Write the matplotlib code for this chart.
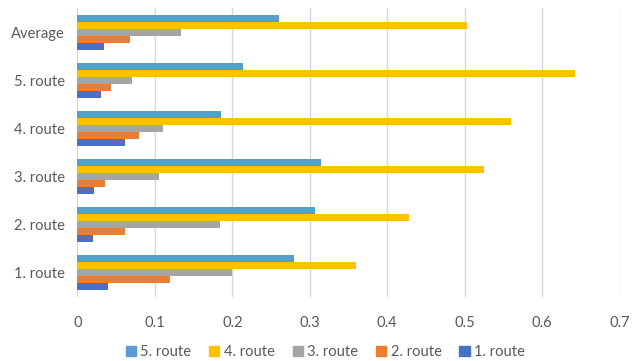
import matplotlib
matplotlib.use("Agg")
import matplotlib.pyplot as plt
import numpy as np
from matplotlib.patches import Patch

categories = ["1. route", "2. route", "3. route", "4. route", "5. route", "Average"]
series_names = ["1. route", "2. route", "3. route", "4. route", "5. route"]
route1 = [0.040, 0.020, 0.021, 0.062, 0.031, 0.034]
route2 = [0.120, 0.061, 0.035, 0.080, 0.043, 0.068]
route3 = [0.200, 0.184, 0.105, 0.111, 0.071, 0.134]
route4 = [0.360, 0.428, 0.525, 0.560, 0.642, 0.503]
route5 = [0.280, 0.307, 0.315, 0.186, 0.214, 0.260]
x_ticks = [0, 0.1, 0.2, 0.3, 0.4, 0.5, 0.6, 0.7]

colors = ["#4472C4", "#ED7D31", "#A5A5A5", "#FFC000", "#5B9BD5"]
series = [route1, route2, route3, route4, route5]

plt.rcParams["font.family"] = ["Lato", "DejaVu Sans"]
text_color = "#595959"

fig = plt.figure(figsize=(6.38, 3.61), dpi=100)
ax = fig.add_axes([77.4 / 638, 1 - 297 / 361, (619.7 - 77.4) / 638, (297 - 8) / 361])

y = np.arange(len(categories))
h = 0.145
for i, (vals, c) in enumerate(zip(series, colors)):
    offs = (i - 2) * h
    ax.barh(y + offs, vals, height=h, color=c, zorder=3, linewidth=0)

ax.set_xlim(0, 0.7)
ax.set_ylim(-0.5, len(categories) - 0.5)
ax.set_xticks(x_ticks)
ax.set_xticklabels([("0" if t == 0 else f"{t:.1f}") for t in x_ticks])
ax.set_yticks(y)
ax.set_yticklabels(categories)
ax.tick_params(axis="both", length=0, colors=text_color, labelsize=10.6)
ax.tick_params(axis="x", pad=14)
ax.tick_params(axis="y", pad=9)
ax.grid(axis="x", color="#D9D9D9", linewidth=1, zorder=0)
for s in ax.spines.values():
    s.set_visible(False)

handles = [Patch(color=c, label=n) for c, n in zip(colors[::-1], series_names[::-1])]
fig.legend(handles=handles, loc="center", bbox_to_anchor=(0.51, 1 - 352 / 361),
           ncol=5, frameon=False, fontsize=10.6, handlelength=0.7, handleheight=0.7,
           handletextpad=0.3, columnspacing=1.2, labelcolor=text_color)

fig.savefig("out.png", dpi=100)
